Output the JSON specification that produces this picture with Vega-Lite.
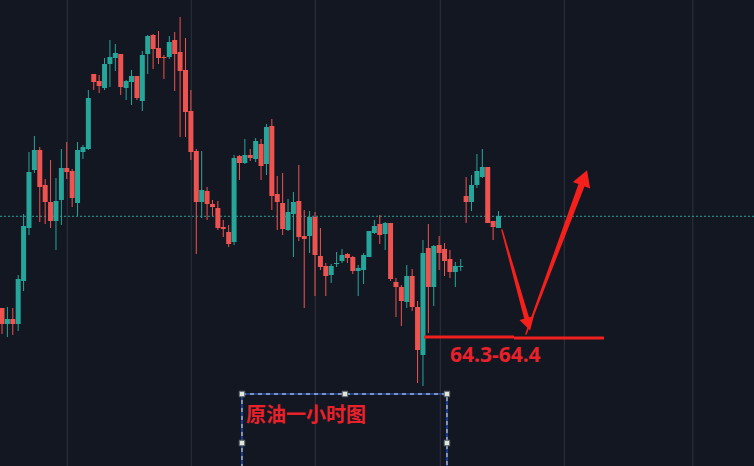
{
  "$schema": "https://vega.github.io/schema/vega-lite/v6.json",
  "width": 754,
  "height": 466,
  "padding": 0,
  "autosize": {"type": "none"},
  "background": "#131722",
  "config": {"view": {"stroke": null}, "scale": {"continuousPadding": 0}},
  "datasets": {
    "grid": [{"i": 12.1}, {"i": 35.07}, {"i": 58.05}, {"i": 81.21}, {"i": 104.19}, {"i": 128.0}],
    "candles": [
      {"i":0,"o":64.64,"h":64.64,"l":64.38,"c":64.48},
      {"i":1,"o":64.48,"h":64.65,"l":64.35,"c":64.53},
      {"i":2,"o":64.53,"h":64.64,"l":64.37,"c":64.48},
      {"i":3,"o":64.48,"h":64.97,"l":64.41,"c":64.93},
      {"i":4,"o":64.91,"h":65.58,"l":64.81,"c":65.46},
      {"i":5,"o":65.44,"h":66.20,"l":65.37,"c":66.00},
      {"i":6,"o":66.02,"h":66.36,"l":65.99,"c":66.22},
      {"i":7,"o":66.22,"h":66.25,"l":65.50,"c":65.85},
      {"i":8,"o":65.87,"h":65.93,"l":65.48,"c":65.70},
      {"i":9,"o":65.70,"h":66.12,"l":65.44,"c":65.51},
      {"i":10,"o":65.51,"h":65.94,"l":65.22,"c":65.71},
      {"i":11,"o":65.72,"h":66.23,"l":65.47,"c":66.04},
      {"i":12,"o":66.04,"h":66.30,"l":65.93,"c":66.00},
      {"i":13,"o":66.01,"h":66.03,"l":65.65,"c":65.74},
      {"i":14,"o":65.69,"h":66.30,"l":65.56,"c":66.22},
      {"i":15,"o":66.20,"h":66.27,"l":66.13,"c":66.25},
      {"i":16,"o":66.23,"h":66.82,"l":66.22,"c":66.74},
      {"i":17,"o":66.98,"h":66.98,"l":66.82,"c":66.90},
      {"i":18,"o":66.91,"h":66.97,"l":66.79,"c":66.86},
      {"i":19,"o":66.84,"h":67.14,"l":66.82,"c":67.08},
      {"i":20,"o":67.08,"h":67.32,"l":66.85,"c":67.15},
      {"i":21,"o":67.14,"h":67.28,"l":67.01,"c":67.19},
      {"i":22,"o":67.18,"h":67.18,"l":66.77,"c":66.85},
      {"i":23,"o":66.84,"h":66.92,"l":66.72,"c":66.91},
      {"i":24,"o":66.90,"h":67.02,"l":66.67,"c":66.96},
      {"i":25,"o":66.96,"h":66.96,"l":66.72,"c":66.74},
      {"i":26,"o":66.71,"h":67.21,"l":66.61,"c":67.17},
      {"i":27,"o":67.18,"h":67.37,"l":66.98,"c":67.36},
      {"i":28,"o":67.37,"h":67.38,"l":67.03,"c":67.23},
      {"i":29,"o":67.24,"h":67.41,"l":67.08,"c":67.14},
      {"i":30,"o":67.15,"h":67.17,"l":66.93,"c":67.14},
      {"i":31,"o":67.15,"h":67.36,"l":67.13,"c":67.30},
      {"i":32,"o":67.32,"h":67.40,"l":66.81,"c":67.18},
      {"i":33,"o":67.20,"h":67.55,"l":66.35,"c":67.01},
      {"i":34,"o":67.02,"h":67.34,"l":66.35,"c":66.60},
      {"i":35,"o":66.61,"h":66.82,"l":66.12,"c":66.20},
      {"i":36,"o":66.21,"h":66.23,"l":65.18,"c":65.70},
      {"i":37,"o":65.70,"h":66.21,"l":65.54,"c":65.82},
      {"i":38,"o":65.81,"h":65.85,"l":65.52,"c":65.68},
      {"i":39,"o":65.68,"h":65.72,"l":65.56,"c":65.65},
      {"i":40,"o":65.64,"h":65.71,"l":65.42,"c":65.44},
      {"i":41,"o":65.45,"h":65.52,"l":65.35,"c":65.43},
      {"i":42,"o":65.40,"h":65.47,"l":65.25,"c":65.28},
      {"i":43,"o":65.30,"h":66.17,"l":65.27,"c":66.14},
      {"i":44,"o":66.16,"h":66.17,"l":65.92,"c":66.09},
      {"i":45,"o":66.09,"h":66.33,"l":66.08,"c":66.17},
      {"i":46,"o":66.17,"h":66.23,"l":66.11,"c":66.14},
      {"i":47,"o":66.13,"h":66.34,"l":66.10,"c":66.31},
      {"i":48,"o":66.28,"h":66.33,"l":65.92,"c":66.06},
      {"i":49,"o":66.08,"h":66.48,"l":65.97,"c":66.45},
      {"i":50,"o":66.46,"h":66.53,"l":65.62,"c":65.76},
      {"i":51,"o":65.78,"h":65.96,"l":65.42,"c":65.70},
      {"i":52,"o":65.69,"h":65.99,"l":65.37,"c":65.43},
      {"i":53,"o":65.42,"h":65.73,"l":65.41,"c":65.60},
      {"i":54,"o":65.58,"h":65.80,"l":65.15,"c":65.70},
      {"i":55,"o":65.71,"h":66.07,"l":65.31,"c":65.35},
      {"i":56,"o":65.36,"h":65.62,"l":64.64,"c":65.33},
      {"i":57,"o":65.36,"h":65.61,"l":65.19,"c":65.55},
      {"i":58,"o":65.55,"h":65.60,"l":64.76,"c":65.17},
      {"i":59,"o":65.16,"h":65.44,"l":65.02,"c":65.05},
      {"i":60,"o":65.06,"h":65.09,"l":64.76,"c":64.96},
      {"i":61,"o":64.97,"h":65.08,"l":64.89,"c":65.06},
      {"i":62,"o":65.08,"h":65.20,"l":65.05,"c":65.09},
      {"i":63,"o":65.11,"h":65.23,"l":65.09,"c":65.17},
      {"i":64,"o":65.18,"h":65.19,"l":65.09,"c":65.14},
      {"i":65,"o":65.15,"h":65.16,"l":64.98,"c":65.01},
      {"i":66,"o":65.01,"h":65.07,"l":64.76,"c":65.04},
      {"i":67,"o":65.02,"h":65.19,"l":64.88,"c":65.17},
      {"i":68,"o":65.15,"h":65.41,"l":65.15,"c":65.41},
      {"i":69,"o":65.39,"h":65.52,"l":65.38,"c":65.46},
      {"i":70,"o":65.48,"h":65.57,"l":65.28,"c":65.37},
      {"i":71,"o":65.38,"h":65.50,"l":65.22,"c":65.49},
      {"i":72,"o":65.49,"h":65.49,"l":64.91,"c":64.93},
      {"i":73,"o":64.90,"h":64.94,"l":64.55,"c":64.85},
      {"i":74,"o":64.85,"h":64.87,"l":64.46,"c":64.71},
      {"i":75,"o":64.70,"h":65.07,"l":64.64,"c":64.96},
      {"i":76,"o":64.96,"h":65.03,"l":64.61,"c":64.65},
      {"i":77,"o":64.65,"h":64.71,"l":63.89,"c":64.22},
      {"i":78,"o":64.17,"h":65.32,"l":63.86,"c":65.19},
      {"i":79,"o":65.24,"h":65.48,"l":64.39,"c":64.85},
      {"i":80,"o":64.85,"h":65.27,"l":64.66,"c":65.26},
      {"i":81,"o":65.27,"h":65.36,"l":65.02,"c":65.19},
      {"i":82,"o":65.23,"h":65.29,"l":64.96,"c":65.11},
      {"i":83,"o":65.13,"h":65.22,"l":64.94,"c":65.00},
      {"i":84,"o":65.00,"h":65.10,"l":64.85,"c":65.06},
      {"i":85,"o":65.05,"h":65.13,"l":65.01,"c":65.06},
      {"i":86,"o":65.76,"h":65.95,"l":65.49,"c":65.70},
      {"i":87,"o":65.70,"h":65.97,"l":65.61,"c":65.87},
      {"i":88,"o":65.87,"h":66.18,"l":65.84,"c":66.01},
      {"i":89,"o":65.95,"h":66.23,"l":65.94,"c":66.05},
      {"i":90,"o":66.05,"h":66.05,"l":65.49,"c":65.49},
      {"i":91,"o":65.51,"h":65.51,"l":65.32,"c":65.45},
      {"i":92,"o":65.44,"h":65.61,"l":65.44,"c":65.56}
    ],
    "support": [
      {"i": 78.19, "i2": 94.87, "p": 64.35},
      {"i": 94.87, "i2": 111.54, "p": 64.34}
    ],
    "shafts": [
      {"arrow": "down", "seq": 0, "i": 92.64, "p": 65.42, "w": 1.5},
      {"arrow": "down", "seq": 1, "i": 97.2, "p": 64.54, "w": 5},
      {"arrow": "up", "seq": 0, "i": 97.09, "p": 64.38, "w": 1.5},
      {"arrow": "up", "seq": 1, "i": 107.38, "p": 65.869, "w": 6.5}
    ],
    "heads": [
      {"i": 97.53, "p": 64.478, "ang": 164.4, "s": 220},
      {"i": 107.89, "p": 65.942, "ang": 20.5, "s": 340}
    ],
    "labels": [
      {"i": 83.01, "p": 64.165, "t": "64.3-64.4", "kind": "price"},
      {"i": 45.21, "p": 63.565, "t": "原油一小时图", "kind": "title"}
    ],
    "box": [{"i": 44.47, "i2": 82.45, "p": 63.78, "p2": 62.9}],
    "handles": [
      {"i": 44.47, "p": 63.78},
      {"i": 63.55, "p": 63.78},
      {"i": 82.45, "p": 63.78},
      {"i": 44.47, "p": 63.29},
      {"i": 82.45, "p": 63.29}
    ]
  },
  "layer": [
    {
      "data": {"name": "grid"},
      "mark": {"type": "rule", "color": "#2e323e", "strokeWidth": 1},
      "encoding": {
        "x": {"field": "i", "type": "quantitative", "axis": null, "scale": {"domain": [-0.3706, 139.34], "nice": false, "zero": false, "padding": 0}}
      }
    },
    {
      "data": {"values": [{"p": 65.557}]},
      "mark": {"type": "rule", "color": "#26a69a", "strokeWidth": 1, "strokeDash": [2, 2]},
      "encoding": {
        "y": {"field": "p", "type": "quantitative", "axis": null, "scale": {"domain": [63.06, 67.72], "nice": false, "zero": false, "padding": 0}}
      }
    },
    {
      "data": {"name": "candles"},
      "encoding": {
        "x": {"field": "i", "type": "quantitative", "axis": null, "scale": {"domain": [-0.3706, 139.34], "nice": false, "zero": false, "padding": 0}},
        "color": {"condition": {"test": "datum.c >= datum.o", "value": "#26a69a"}, "value": "#ef5350"}
      },
      "layer": [
        {
          "mark": {"type": "rule", "strokeWidth": 1},
          "encoding": {
            "y": {"field": "h", "type": "quantitative", "axis": null, "scale": {"domain": [63.06, 67.72], "nice": false, "zero": false, "padding": 0}},
            "y2": {"field": "l"}
          }
        },
        {
          "mark": {"type": "bar", "size": 5},
          "encoding": {
            "y": {"field": "o", "type": "quantitative", "axis": null, "scale": {"domain": [63.06, 67.72], "nice": false, "zero": false, "padding": 0}},
            "y2": {"field": "c"}
          }
        }
      ]
    },
    {
      "data": {"name": "support"},
      "mark": {"type": "rule", "color": "#f0201f", "strokeWidth": 3},
      "encoding": {
        "x": {"field": "i", "type": "quantitative", "axis": null, "scale": {"domain": [-0.3706, 139.34], "nice": false, "zero": false, "padding": 0}},
        "x2": {"field": "i2"},
        "y": {"field": "p", "type": "quantitative", "axis": null, "scale": {"domain": [63.06, 67.72], "nice": false, "zero": false, "padding": 0}}
      }
    },
    {
      "data": {"name": "shafts"},
      "mark": {"type": "trail", "color": "#f5201c"},
      "encoding": {
        "x": {"field": "i", "type": "quantitative", "axis": null, "scale": {"domain": [-0.3706, 139.34], "nice": false, "zero": false, "padding": 0}},
        "y": {"field": "p", "type": "quantitative", "axis": null, "scale": {"domain": [63.06, 67.72], "nice": false, "zero": false, "padding": 0}},
        "size": {"field": "w", "type": "quantitative", "scale": null, "legend": null},
        "detail": {"field": "arrow"},
        "order": {"field": "seq"}
      }
    },
    {
      "data": {"name": "heads"},
      "mark": {"type": "point", "shape": "triangle-up", "filled": true, "color": "#f5201c", "opacity": 1},
      "encoding": {
        "x": {"field": "i", "type": "quantitative", "axis": null, "scale": {"domain": [-0.3706, 139.34], "nice": false, "zero": false, "padding": 0}},
        "y": {"field": "p", "type": "quantitative", "axis": null, "scale": {"domain": [63.06, 67.72], "nice": false, "zero": false, "padding": 0}},
        "angle": {"field": "ang", "type": "quantitative", "scale": null},
        "size": {"field": "s", "type": "quantitative", "scale": null, "legend": null}
      }
    },
    {
      "data": {"name": "box"},
      "mark": {"type": "rect", "fill": null, "stroke": "#2962ff", "strokeWidth": 1},
      "encoding": {
        "x": {"field": "i", "type": "quantitative", "axis": null, "scale": {"domain": [-0.3706, 139.34], "nice": false, "zero": false, "padding": 0}},
        "x2": {"field": "i2"},
        "y": {"field": "p", "type": "quantitative", "axis": null, "scale": {"domain": [63.06, 67.72], "nice": false, "zero": false, "padding": 0}},
        "y2": {"field": "p2"}
      }
    },
    {
      "data": {"name": "box"},
      "mark": {"type": "rect", "fill": null, "stroke": "#e8ecd8", "strokeWidth": 1, "strokeDash": [4, 4]},
      "encoding": {
        "x": {"field": "i", "type": "quantitative", "axis": null, "scale": {"domain": [-0.3706, 139.34], "nice": false, "zero": false, "padding": 0}},
        "x2": {"field": "i2"},
        "y": {"field": "p", "type": "quantitative", "axis": null, "scale": {"domain": [63.06, 67.72], "nice": false, "zero": false, "padding": 0}},
        "y2": {"field": "p2"}
      }
    },
    {
      "data": {"name": "handles"},
      "mark": {"type": "square", "size": 30, "filled": true, "fill": "#dfe6dc", "stroke": "#5b606b", "strokeWidth": 1, "opacity": 1},
      "encoding": {
        "x": {"field": "i", "type": "quantitative", "axis": null, "scale": {"domain": [-0.3706, 139.34], "nice": false, "zero": false, "padding": 0}},
        "y": {"field": "p", "type": "quantitative", "axis": null, "scale": {"domain": [63.06, 67.72], "nice": false, "zero": false, "padding": 0}}
      }
    },
    {
      "data": {"name": "labels"},
      "transform": [{"filter": "datum.kind == 'price'"}],
      "mark": {"type": "text", "align": "left", "baseline": "middle", "font": "Noto Sans", "fontWeight": "bold", "fontSize": 21, "color": "#e8212a"},
      "encoding": {
        "x": {"field": "i", "type": "quantitative", "axis": null, "scale": {"domain": [-0.3706, 139.34], "nice": false, "zero": false, "padding": 0}},
        "y": {"field": "p", "type": "quantitative", "axis": null, "scale": {"domain": [63.06, 67.72], "nice": false, "zero": false, "padding": 0}},
        "text": {"field": "t"}
      }
    },
    {
      "data": {"name": "labels"},
      "transform": [{"filter": "datum.kind == 'title'"}],
      "mark": {"type": "text", "align": "left", "baseline": "middle", "font": "Noto Sans CJK SC", "fontWeight": "bold", "fontSize": 20, "color": "#e8212a"},
      "encoding": {
        "x": {"field": "i", "type": "quantitative", "axis": null, "scale": {"domain": [-0.3706, 139.34], "nice": false, "zero": false, "padding": 0}},
        "y": {"field": "p", "type": "quantitative", "axis": null, "scale": {"domain": [63.06, 67.72], "nice": false, "zero": false, "padding": 0}},
        "text": {"field": "t"}
      }
    }
  ]
}
